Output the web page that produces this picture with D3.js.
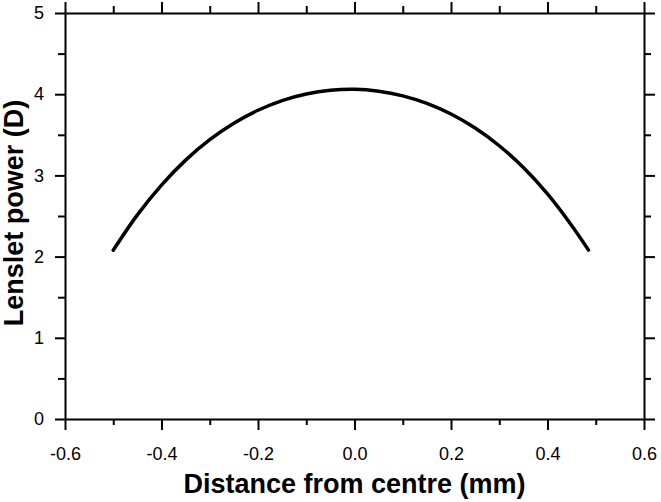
<!DOCTYPE html>
<html><head><meta charset="utf-8">
<script src="https://cdn.jsdelivr.net/npm/d3@7"></script>
<style>body{margin:0;background:#fff}svg{display:block}text{font-family:"Liberation Sans",Arial,sans-serif}</style>
</head><body>
<script>
const distance = [-0.50,-0.45,-0.40,-0.35,-0.30,-0.25,-0.20,-0.15,-0.10,-0.05,0.00,0.05,0.10,0.15,0.20,0.25,0.30,0.35,0.40,0.45,0.485];
const power    = [2.079,2.514,2.881,3.188,3.440,3.643,3.802,3.921,4.002,4.048,4.060,4.037,3.980,3.887,3.756,3.583,3.365,3.096,2.771,2.383,2.080];
const xTicks = [-0.6,-0.4,-0.2,0.0,0.2,0.4,0.6];
const xMinor = [-0.5,-0.3,-0.1,0.1,0.3,0.5];
const yTicks = [0,1,2,3,4,5];
const yMinor = [0.5,1.5,2.5,3.5,4.5];
const xLabel = "Distance from centre (mm)";
const yLabel = "Lenslet power (D)";

const W = 661, H = 502;
const L = 65, R = 644, T = 13, B = 419;
const svg = d3.select("body").append("svg").attr("width", W).attr("height", H);
const x = d3.scaleLinear().domain([-0.6, 0.6]).range([L, R]);
const y = d3.scaleLinear().domain([0, 5]).range([B, T]);

function styleAxis(g){
  g.selectAll("path").attr("stroke","#000").attr("stroke-width",2);
  g.selectAll("line").attr("stroke","#000").attr("stroke-width",2);
}
const fmtX = d => d3.format(".1f")(d).replace("−","-");
// bottom
const gb = svg.append("g").attr("transform",`translate(0,${B})`)
  .call(d3.axisBottom(x).tickValues(xTicks).tickSize(11).tickSizeOuter(0).tickFormat(fmtX));
gb.selectAll("text").attr("font-size",18).attr("fill","#000").attr("dy",0).attr("y",41);
styleAxis(gb);
svg.append("g").attr("transform",`translate(0,${B})`)
  .call(d3.axisBottom(x).tickValues(xMinor).tickSize(6).tickSizeOuter(0).tickFormat(""))
  .call(styleAxis).select("path").remove();
// top
const gt = svg.append("g").attr("transform",`translate(0,${T})`)
  .call(d3.axisTop(x).tickValues(xTicks).tickSize(11).tickSizeOuter(0).tickFormat(""));
styleAxis(gt);
svg.append("g").attr("transform",`translate(0,${T})`)
  .call(d3.axisTop(x).tickValues(xMinor).tickSize(7).tickSizeOuter(0).tickFormat(""))
  .call(styleAxis).select("path").remove();
// left
const gl = svg.append("g").attr("transform",`translate(${L},0)`)
  .call(d3.axisLeft(y).tickValues(yTicks).tickSize(10).tickSizeOuter(0).tickFormat(d3.format("d")));
gl.selectAll("text").attr("font-size",18).attr("fill","#000").attr("x",-21);
styleAxis(gl);
svg.append("g").attr("transform",`translate(${L},0)`)
  .call(d3.axisLeft(y).tickValues(yMinor).tickSize(7).tickSizeOuter(0).tickFormat(""))
  .call(styleAxis).select("path").remove();
// right
const gr = svg.append("g").attr("transform",`translate(${R},0)`)
  .call(d3.axisRight(y).tickValues(yTicks).tickSize(11).tickSizeOuter(0).tickFormat(""));
styleAxis(gr);
svg.append("g").attr("transform",`translate(${R},0)`)
  .call(d3.axisRight(y).tickValues(yMinor).tickSize(7).tickSizeOuter(0).tickFormat(""))
  .call(styleAxis).select("path").remove();

// curve
const pts = distance.map((d,i)=>[d, power[i]]);
svg.append("path").datum(pts)
  .attr("fill","none").attr("stroke","#000").attr("stroke-width",3.5).attr("stroke-linecap","round")
  .attr("d", d3.line().x(d=>x(d[0])).y(d=>y(d[1])).curve(d3.curveCatmullRom));

// titles
svg.append("text").attr("x",(L+R)/2).attr("y",493).attr("text-anchor","middle")
  .attr("font-size",27).attr("font-weight","bold").text(xLabel);
svg.append("text").attr("transform",`translate(23,${(T+B)/2 - 3}) rotate(-90)`).attr("text-anchor","middle")
  .attr("font-size",27).attr("font-weight","bold").text(yLabel);
</script>
</body></html>
